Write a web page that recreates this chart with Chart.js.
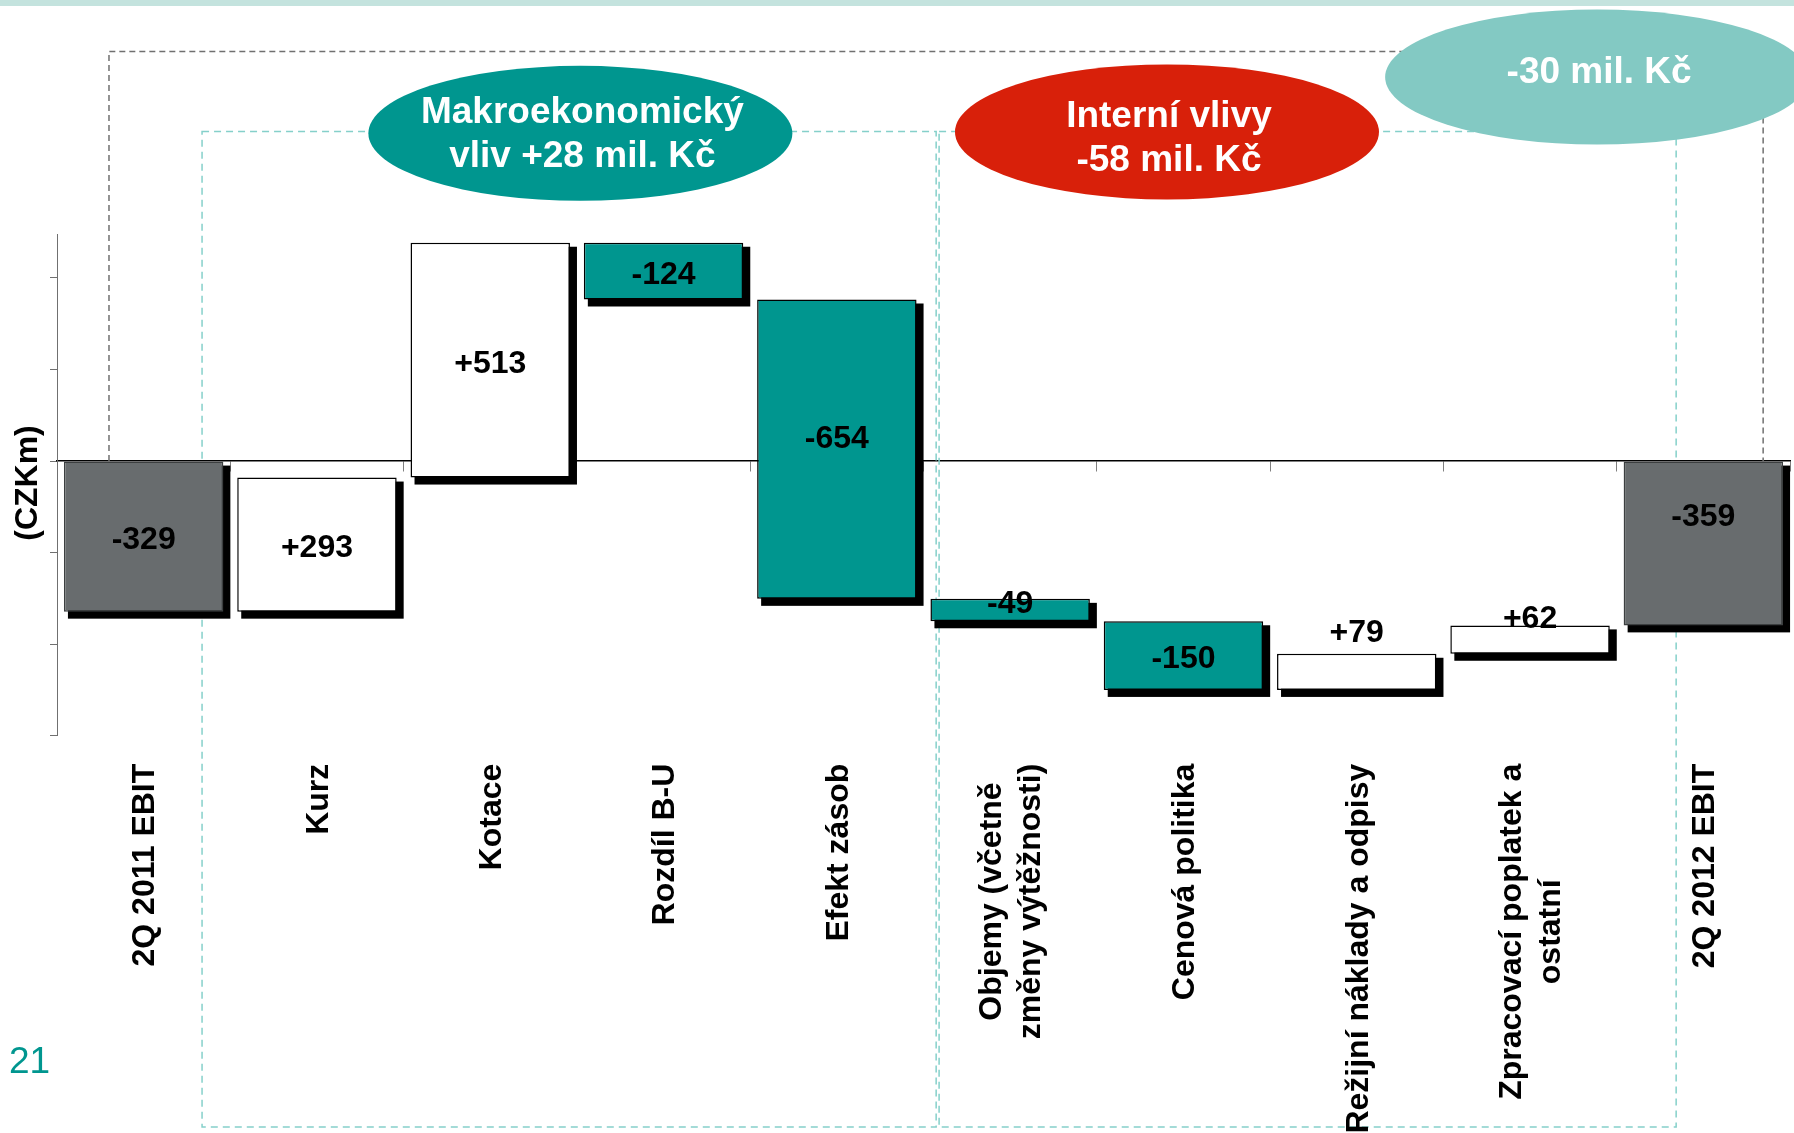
<!DOCTYPE html>
<html>
<head>
<meta charset="utf-8">
<title>EBIT 2Q 2011 - 2Q 2012</title>
<script src="https://cdn.jsdelivr.net/npm/chart.js@4.4.1/dist/chart.umd.min.js"></script>
<style>
html, body { margin: 0; padding: 0; background: #fff; }
canvas { display: block; }
</style>
</head>
<body>
<canvas id="graf" width="1794" height="1133"></canvas>
<script>
// data (mil. Kč) - first and last bar are totals, the rest are changes
var categories = [
    ['2Q 2011 EBIT'],
    ['Kurz'],
    ['Kotace'],
    ['Rozdíl B-U'],
    ['Efekt zásob'],
    ['Objemy (včetně', 'změny výtěžnosti)'],
    ['Cenová politika'],
    ['Režijní náklady a odpisy'],
    ['Zpracovací poplatek a', 'ostatní'],
    ['2Q 2012 EBIT']
];
var values = [-329, 293, 513, -124, -654, -49, -150, 79, 62, -359];
var isTotal = [true, false, false, false, false, false, false, false, false, true];
var yTicks = [-600, -400, -200, 0, 200, 400];
var bubbles = [
    ['Makroekonomický', 'vliv +28 mil. Kč'],
    ['Interní vlivy', '-58 mil. Kč'],
    ['-30 mil. Kč']
];
var pageNo = '21';

var cTeal = '#00968f';
var cGray = '#686c6e';
var cRed = '#d8200a';
var cLight = '#83c9c3';
var cDash = '#85d0ca';
var fontName = '"Liberation Sans", Arial, sans-serif';

// waterfall ranges built from the changes
var ranges = [], run = 0;
for (var i = 0; i < values.length; i++) {
    if (isTotal[i]) {
        ranges.push([0, values[i]]);
        run = values[i];
    } else {
        ranges.push([run, run + values[i]]);
        run += values[i];
    }
}
var fills = values.map(function (v, i) { return isTotal[i] ? cGray : (v > 0 ? '#ffffff' : cTeal); });
var borders = values.map(function (v, i) { return isTotal[i] ? '#3c3f40' : '#000000'; });
var labelText = values.map(function (v, i) { return (!isTotal[i] && v > 0 ? '+' : '') + v; });
// where the value sits on each bar
var labelPlace = ['mid', 'mid', 'mid', 'mid', 'high', 'edge', 'mid', 'above', 'ontop', 'upper'];

function helpers(chart) {
    var xs = chart.scales.x, ys = chart.scales.y;
    var step = xs.getPixelForValue(1) - xs.getPixelForValue(0);
    return {
        px: function (v) { return xs.getPixelForValue(0) + v * step; },
        py: function (v) { return ys.getPixelForValue(v); }
    };
}

var decor = {
    id: 'decor',
    beforeDraw: function (chart) {
        var c = chart.ctx;
        c.save();
        c.fillStyle = '#ffffff';
        c.fillRect(0, 0, chart.width, chart.height);
        c.fillStyle = '#c4e3de';
        c.fillRect(0, 0, chart.width, 6);
        c.restore();
    },
    beforeDatasetsDraw: function (chart) {
        var c = chart.ctx, h = helpers(chart);
        c.save();
        // grey frame over the whole bridge
        c.setLineDash([6, 4]);
        c.lineWidth = 1.5;
        c.strokeStyle = '#707070';
        c.beginPath();
        c.moveTo(h.px(-0.2), h.py(0));
        c.lineTo(h.px(-0.2), h.py(895));
        c.lineTo(h.px(9.345), h.py(895));
        c.lineTo(h.px(9.345), h.py(0));
        c.stroke();
        // teal frames: macro / internal
        c.setLineDash([7, 5]);
        c.strokeStyle = cDash;
        c.strokeRect(h.px(0.337), h.py(720), h.px(4.573) - h.px(0.337), h.py(-1455) - h.py(720));
        c.strokeRect(h.px(4.59), h.py(720), h.px(8.843) - h.px(4.59), h.py(-1455) - h.py(720));
        c.setLineDash([]);
        // shadows
        c.fillStyle = '#000000';
        chart.getDatasetMeta(0).data.forEach(function (el) {
            var p = el.getProps(['x', 'y', 'base', 'width'], true);
            var top = Math.min(p.y, p.base), bot = Math.max(p.y, p.base);
            c.fillRect(p.x - p.width / 2 + 4, top + 4, p.width + 3, bot - top + 3);
        });
        c.restore();
    },
    afterDatasetsDraw: function (chart) {
        var c = chart.ctx;
        c.save();
        c.font = 'bold 32px ' + fontName;
        c.fillStyle = '#000000';
        c.textAlign = 'center';
        c.textBaseline = 'middle';
        chart.getDatasetMeta(0).data.forEach(function (el, i) {
            var p = el.getProps(['x', 'y', 'base'], true);
            var top = Math.min(p.y, p.base), bot = Math.max(p.y, p.base);
            var y = (top + bot) / 2;
            if (labelPlace[i] === 'high') y -= 14;
            if (labelPlace[i] === 'edge') y = top + 1;
            if (labelPlace[i] === 'ontop') y = top - 10;
            if (labelPlace[i] === 'above') y = top - 25;
            if (labelPlace[i] === 'upper') y = top + 52;
            c.fillText(labelText[i], p.x, y + 4);
        });
        c.restore();
    },
    afterDraw: function (chart) {
        var c = chart.ctx, h = helpers(chart), xs = chart.scales.x, ys = chart.scales.y;
        c.save();
        // bubbles
        var spots = [
            { x: 2.52, y: 716, col: cTeal, dy: 1 },
            { x: 5.905, y: 719, col: cRed, dy: 7 },
            { x: 8.387, y: 839, col: cLight, dy: -4 }
        ];
        c.font = 'bold 37px ' + fontName;
        c.textAlign = 'center';
        c.textBaseline = 'middle';
        spots.forEach(function (s, k) {
            var cx = h.px(s.x), cy = h.py(s.y);
            c.fillStyle = s.col;
            c.beginPath();
            c.ellipse(cx, cy, 212, 67.5, 0, 0, Math.PI * 2);
            c.fill();
            c.fillStyle = '#ffffff';
            var lines = bubbles[k];
            lines.forEach(function (t, j) {
                var off = (j - (lines.length - 1) / 2) * 44;
                c.fillText(t, cx + 2, cy + off + s.dy);
            });
        });
        // category labels, rotated
        c.font = 'bold 32px ' + fontName;
        c.fillStyle = '#000000';
        categories.forEach(function (lines, i) {
            var w = 0;
            lines.forEach(function (t) { w = Math.max(w, c.measureText(t).width); });
            c.save();
            c.translate(xs.getPixelForValue(i) + 2, ys.bottom + 28 + w / 2);
            c.rotate(-Math.PI / 2);
            lines.forEach(function (t, j) {
                c.fillText(t, 0, (j - (lines.length - 1) / 2) * 39);
            });
            c.restore();
        });
        // axis title
        c.save();
        c.translate(28, 483);
        c.rotate(-Math.PI / 2);
        c.fillText('(CZKm)', 0, 0);
        c.restore();
        // slide number
        c.font = '37px ' + fontName;
        c.fillStyle = cTeal;
        c.textAlign = 'left';
        c.textBaseline = 'alphabetic';
        c.fillText(pageNo, 9, 1073);
        c.restore();
    }
};

var meuGrafico = new Chart(document.getElementById('graf').getContext('2d'), {
    type: 'bar',
    data: {
        labels: categories,
        datasets: [{
            label: 'EBIT',
            data: ranges,
            backgroundColor: fills,
            borderColor: borders,
            borderWidth: 1.5,
            borderSkipped: false,
            barPercentage: 0.92,
            categoryPercentage: 1.0
        }]
    },
    options: {
        responsive: false,
        animation: false,
        devicePixelRatio: 1,
        layout: {
            padding: { left: 50, right: 4, top: 234.5, bottom: 397.3 }
        },
        plugins: {
            legend: { display: false },
            tooltip: { enabled: false }
        },
        scales: {
            x: {
                type: 'category',
                position: { y: 0 },
                offset: true,
                z: 1,
                grid: { drawOnChartArea: false, offset: true, tickLength: 10, color: '#808080', lineWidth: 1 },
                border: { color: '#000000', width: 1.5 },
                ticks: { display: false }
            },
            y: {
                min: -600,
                max: 495,
                afterBuildTicks: function (scale) {
                    scale.ticks = yTicks.map(function (v) { return { value: v }; });
                },
                grid: { drawOnChartArea: false, tickLength: 7, color: '#707070', lineWidth: 1 },
                border: { color: '#707070', width: 1 },
                ticks: { display: false }
            }
        }
    },
    plugins: [decor]
});
</script>
</body>
</html>
